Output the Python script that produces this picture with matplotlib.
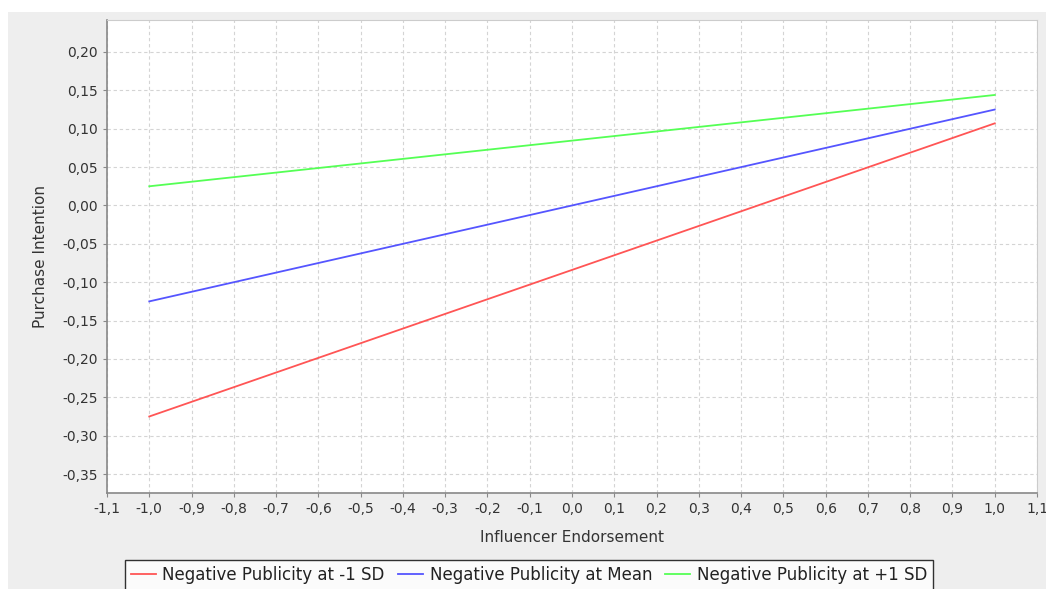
import matplotlib
matplotlib.use("Agg")
import matplotlib.pyplot as plt
from matplotlib.patches import Rectangle
from matplotlib.ticker import FuncFormatter, MultipleLocator

# 简单斜率：三条线的端点 (x = -1, 1)
x_points = [-1.0, 1.0]
y_low = [-0.275, 0.107]    # Negative Publicity at -1 SD
y_mean = [-0.125, 0.125]   # Negative Publicity at Mean
y_high = [0.025, 0.144]    # Negative Publicity at +1 SD

series_labels = [
    "Negative Publicity at -1 SD",
    "Negative Publicity at Mean",
    "Negative Publicity at +1 SD",
]
series_colors = ["#ff5555", "#5555ff", "#55ff55"]

W, H = 1046, 589
fig = plt.figure(figsize=(W / 100, H / 100), dpi=100, facecolor="white")
# 灰色面板（左、上留白）
fig.patches.append(Rectangle((8 / W, 0), 1 - 8 / W, 1 - 12 / H,
                             transform=fig.transFigure, facecolor="#eeeeee",
                             edgecolor="none", zorder=-10))

ax = fig.add_axes([107 / W, 1 - 493 / H, (1037 - 107) / W, (493 - 20) / H])
ax.set_facecolor("white")

for ys, lab, col in zip([y_low, y_mean, y_high], series_labels, series_colors):
    ax.plot(x_points, ys, color=col, linewidth=1.3, label=lab)

ax.set_xlim(-1.1, 1.1)
ax.set_ylim(-0.3747, 0.2417)
ax.xaxis.set_major_locator(MultipleLocator(0.1))
ax.yaxis.set_major_locator(MultipleLocator(0.05))
ax.xaxis.set_major_formatter(FuncFormatter(lambda v, p: f"{v:.1f}".replace(".", ",").replace("-0,0", "0,0")))
ax.yaxis.set_major_formatter(FuncFormatter(lambda v, p: f"{v:.2f}".replace(".", ",").replace("-0,00", "0,00")))

ax.grid(True, color="#d4d4d4", linestyle=(0, (3, 2.5)), linewidth=0.8)
ax.set_axisbelow(True)
for side in ["top", "right"]:
    ax.spines[side].set_color("#cccccc")
    ax.spines[side].set_linewidth(0.8)
for side in ["left", "bottom"]:
    ax.spines[side].set_color("#888888")
    ax.spines[side].set_linewidth(1.2)
ax.tick_params(axis="both", colors="#888888", labelcolor="#333333", labelsize=10,
               length=3, width=0.8, direction="out")

ax.set_xlabel("Influencer Endorsement", fontsize=11, color="#333333", labelpad=10)
ax.set_ylabel("Purchase Intention", fontsize=11, color="#333333", labelpad=10)

leg = fig.legend(loc="upper center", bbox_to_anchor=(529 / W, 1 - 552 / H), ncol=3,
                 fontsize=12, frameon=True, fancybox=False, handlelength=1.5,
                 handletextpad=0.4, columnspacing=0.8, borderpad=0.35)
leg.get_frame().set_edgecolor("black")
leg.get_frame().set_linewidth(1.0)
leg.get_frame().set_facecolor("white")
for t in leg.get_texts():
    t.set_color("#222222")

fig.savefig("out.png", dpi=100, facecolor="white")
plt.close(fig)
